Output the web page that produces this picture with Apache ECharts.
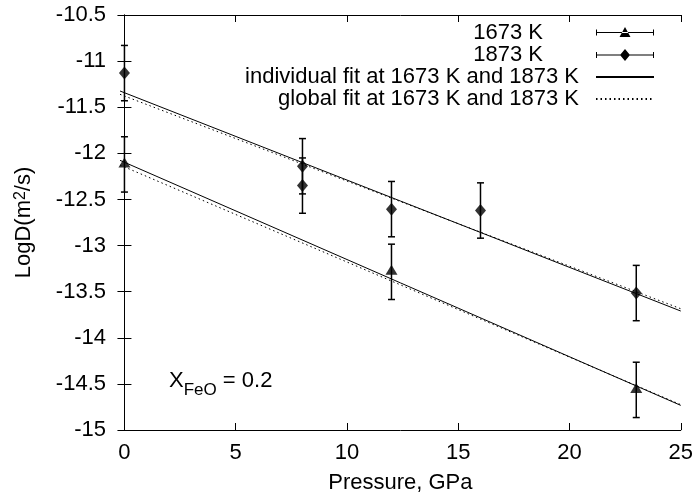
<!DOCTYPE html>
<html>
<head>
<meta charset="utf-8">
<script src="https://cdn.jsdelivr.net/npm/echarts@6/dist/echarts.min.js"></script>
<style>
html, body { margin: 0; padding: 0; background: #fff; }
#chart { width: 696px; height: 500px; }
</style>
</head>
<body>
<div id="chart"></div>
<script>
// measured points, error bars are +/- err
const p1673X = [0, 12, 23]
const p1673Y = [-12.12, -13.285, -14.565]
const p1673Err = [0.3, 0.3, 0.3]
const p1873X = [0, 8, 8, 12, 16, 23]
const p1873Y = [-11.13, -12.14, -12.35, -12.605, -12.62, -13.515]
const p1873Err = [0.3, 0.3, 0.3, 0.3, 0.3, 0.3]

// fit lines, value at both ends of the x range
const fitX = [-0.2, 25]
const indiv1673 = [-12.076, -14.733]
const indiv1873 = [-11.324, -13.71]
const glob1673 = [-12.127, -14.725]
const glob1873 = [-11.36, -13.685]

const xTicks = [0, 5, 10, 15, 20, 25]
const yMin = -15
const yMax = -10.5
const yStep = 0.5

const names = ['1673 K', '1873 K', 'individual fit at 1673 K and 1873 K', 'global fit at 1673 K and 1873 K']

const font = 'Liberation Sans'
const fs = 22

const pts = (xs, ys, es) => xs.map((x, i) => [x, ys[i], es[i]])
const line = (ys) => fitX.map((x, i) => [x, ys[i]])

function errorBar(params, api) {
  const x = api.value(0)
  const y = api.value(1)
  const e = api.value(2)
  const hi = api.coord([x, y + e])
  const lo = api.coord([x, y - e])
  const w = 3.5
  const style = { stroke: '#000', lineWidth: 1.5 }
  return {
    type: 'group',
    children: [
      { type: 'line', shape: { x1: hi[0], y1: hi[1], x2: lo[0], y2: lo[1] }, style },
      { type: 'line', shape: { x1: hi[0] - w, y1: hi[1], x2: hi[0] + w, y2: hi[1] }, style },
      { type: 'line', shape: { x1: lo[0] - w, y1: lo[1], x2: lo[0] + w, y2: lo[1] }, style }
    ]
  }
}

// legend samples: bar with caps and marker
const triIcon = 'path://M0,0L0,13L0,0Z M0,3L1,3L1,9L0,9Z M57,3L58,3L58,9L57,9Z M0,5.5L58,5.5L58,6.5L0,6.5Z M23.5,10.5L34.5,10.5L29,0.5Z'
const diaIcon = 'path://M0,0L0,13L0,0Z M0,3.5L1,3.5L1,9.5L0,9.5Z M57,3.5L58,3.5L58,9.5L57,9.5Z M0,6L58,6L58,7L0,7Z M29,0.5L34,6.5L29,12.5L24,6.5Z'
// fit lines need no marker in the legend
const noMark = 'path://M0,0L1,1'

const axisLine = { lineStyle: { color: '#000', width: 1 } }
const tick = (vals) => ({ inside: true, length: 7, lineStyle: { color: '#000', width: 1 }, customValues: vals })

const chart = echarts.init(document.getElementById('chart'))
chart.setOption({
  animation: false,
  color: ['#000'],
  textStyle: { fontFamily: font },
  grid: { left: 120, right: 13, top: 15, bottom: 70 },
  legend: {
    orient: 'vertical',
    align: 'right',
    right: 41,
    top: 22,
    padding: 0,
    itemGap: 0,
    itemWidth: 58,
    itemHeight: 13,
    selectedMode: false,
    itemStyle: { borderWidth: 0 },
    data: [
      { name: names[0], icon: triIcon },
      { name: names[1], icon: diaIcon },
      { name: names[2] },
      { name: names[3] }
    ],
    formatter: (name) => (name.length < 8 ? '{s|' : '{l|') + name + '}',
    textStyle: {
      fontFamily: font,
      fontSize: fs,
      color: '#000',
      rich: {
        s: { fontFamily: font, fontSize: fs, color: '#000', lineHeight: 22, padding: [0, 48, 0, 0] },
        l: { fontFamily: font, fontSize: fs, color: '#000', lineHeight: 22, padding: [0, 12, 0, 0] }
      }
    }
  },
  xAxis: [
    {
      type: 'value',
      min: fitX[0],
      max: fitX[1],
      axisLine,
      axisTick: tick(xTicks),
      splitLine: { show: false },
      axisLabel: { customValues: xTicks, color: '#000', fontSize: fs, fontFamily: font, margin: 12 },
      name: 'Pressure, GPa',
      nameLocation: 'middle',
      nameGap: 42,
      nameTextStyle: { color: '#000', fontSize: fs, fontFamily: font }
    },
    {
      type: 'value',
      position: 'top',
      min: fitX[0],
      max: fitX[1],
      axisLine,
      axisTick: tick(xTicks),
      splitLine: { show: false },
      axisLabel: { show: false }
    }
  ],
  yAxis: [
    {
      type: 'value',
      min: yMin,
      max: yMax,
      interval: yStep,
      axisLine,
      axisTick: { inside: true, length: 7, lineStyle: { color: '#000', width: 1 } },
      splitLine: { show: false },
      axisLabel: { color: '#000', fontSize: fs, fontFamily: font, margin: 14 },
      name: '{b|LogD(m}{u|2}{b|/s)}',
      nameLocation: 'middle',
      nameGap: 85,
      nameTextStyle: {
        color: '#000',
        rich: {
          b: { fontFamily: font, fontSize: fs, color: '#000', lineHeight: 22, verticalAlign: 'bottom' },
          u: { fontFamily: font, fontSize: 16, color: '#000', lineHeight: 16, padding: [0, 0, 11, 0], verticalAlign: 'top' }
        }
      }
    },
    {
      type: 'value',
      position: 'right',
      min: yMin,
      max: yMax,
      interval: yStep,
      axisLine,
      axisTick: { inside: true, length: 7, lineStyle: { color: '#000', width: 1 } },
      splitLine: { show: false },
      axisLabel: { show: false }
    }
  ],
  series: [
    {
      name: names[0], type: 'custom', renderItem: errorBar,
      itemStyle: { color: '#000' }, encode: { x: 0, y: 1 },
      data: pts(p1673X, p1673Y, p1673Err), z: 3
    },
    {
      name: names[1], type: 'custom', renderItem: errorBar,
      itemStyle: { color: '#000' }, encode: { x: 0, y: 1 },
      data: pts(p1873X, p1873Y, p1873Err), z: 3
    },
    {
      name: names[0], type: 'scatter', symbol: 'triangle', symbolSize: [12, 10], symbolOffset: [0, -2],
      itemStyle: { color: '#000' }, data: pts(p1673X, p1673Y, p1673Err), z: 4
    },
    {
      name: names[1], type: 'scatter', symbol: 'diamond', symbolSize: [11, 13],
      itemStyle: { color: '#000' }, data: pts(p1873X, p1873Y, p1873Err), z: 4
    },
    {
      name: names[2], type: 'line', symbol: noMark, showSymbol: false, data: line(indiv1673),
      lineStyle: { color: '#000', width: 1 }, z: 2
    },
    {
      name: names[2], type: 'line', symbol: noMark, showSymbol: false, data: line(indiv1873),
      lineStyle: { color: '#000', width: 1 }, z: 2
    },
    {
      name: names[3], type: 'line', symbol: noMark, showSymbol: false, data: line(glob1673),
      lineStyle: { color: '#000', width: 1, type: [1.5, 3] }, z: 2
    },
    {
      name: names[3], type: 'line', symbol: noMark, showSymbol: false, data: line(glob1873),
      lineStyle: { color: '#000', width: 1, type: [1.5, 3] }, z: 2
    }
  ]
})

// X_FeO label: "X" starts at P = 2, LogD = -14.47; subscript set lower and smaller
const at = chart.convertToPixel({ gridIndex: 0 }, [2, -14.47])
const txt = (text, x, y, size) => ({
  type: 'text', x, y,
  style: { text, fontFamily: font, fontSize: size, fill: '#000', align: 'left', verticalAlign: 'middle' }
})
chart.setOption({
  graphic: [{
    type: 'group',
    x: at[0],
    y: at[1],
    children: [
      txt('X', 0, 0, fs),
      txt('FeO', 14.7, 9, 17),
      txt(' = 0.2', 47.8, 0, fs)
    ]
  }]
})
</script>
</body>
</html>
